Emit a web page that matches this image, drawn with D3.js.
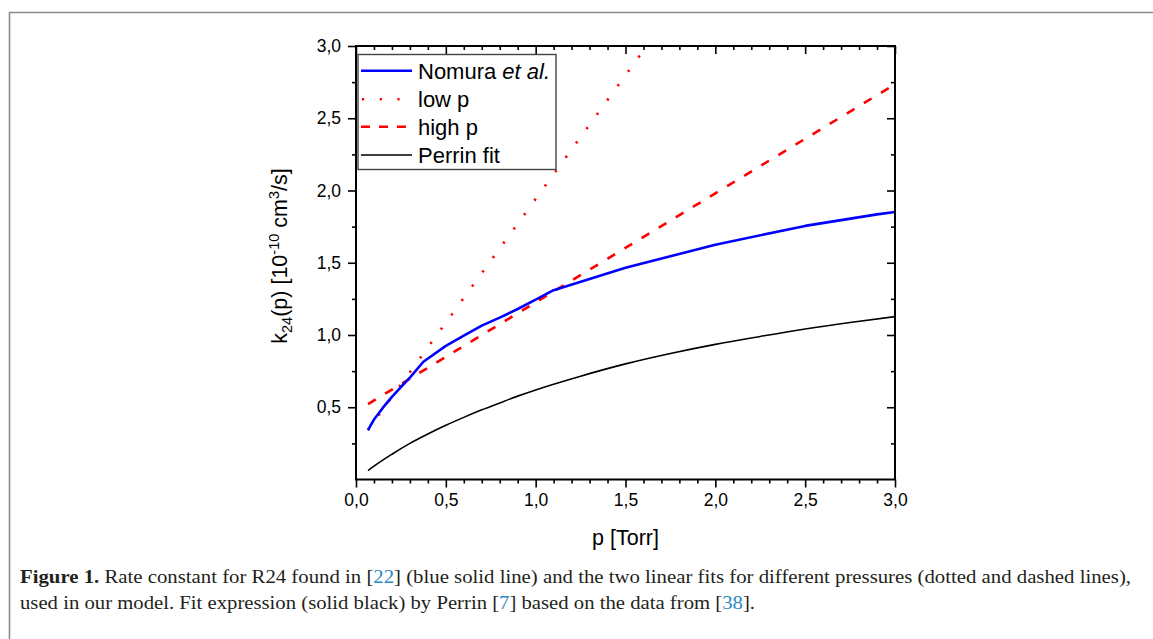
<!DOCTYPE html>
<html>
<head>
<meta charset="utf-8">
<script src="https://cdn.jsdelivr.net/npm/d3@7"></script>
<style>
  html, body { margin: 0; padding: 0; background: #fff; }
  svg { display: block; }
</style>
</head>
<body>
<svg id="chart" width="1153" height="639"></svg>
<script>
// ---- data ----
const nomuraP = [0.067, 0.08, 0.1, 0.15, 0.2, 0.25, 0.3, 0.375, 0.5, 0.6, 0.7, 0.8, 0.9, 1.0, 1.1, 1.5, 2.0, 2.5, 2.9, 3.0];
const nomuraK = [0.34, 0.372, 0.415, 0.497, 0.572, 0.64, 0.705, 0.815, 0.925, 0.995, 1.065, 1.12, 1.18, 1.245, 1.31, 1.465, 1.625, 1.755, 1.835, 1.851];
const lowP = [0.067, 1.618];
const lowK = [0.344, 3.0];
const highP = [0.067, 3.0];
const highK = [0.522, 2.735];
const perrinP = [0.067, 0.1, 0.2, 0.3, 0.4, 0.5, 0.6, 0.7, 0.8, 0.9, 1.0, 1.25, 1.5, 1.75, 2.0, 2.25, 2.5, 2.75, 3.0];
const perrinK = [0.061, 0.092, 0.175, 0.25, 0.315, 0.375, 0.43, 0.482, 0.53, 0.577, 0.62, 0.715, 0.80, 0.872, 0.935, 0.99, 1.042, 1.087, 1.127];
const xMajor = [0, 0.5, 1.0, 1.5, 2.0, 2.5, 3.0];
const yMajor = [0.5, 1.0, 1.5, 2.0, 2.5, 3.0];
const legendLabels = ["Nomura", "low p", "high p", "Perrin fit"];

// ---- layout ----
const svg = d3.select("#chart");
const X0 = 356, X1 = 895, Y0 = 479.5, Y1 = 46;
const x = d3.scaleLinear().domain([0, 3]).range([X0, X1]);
const y = d3.scaleLinear().domain([0, 3]).range([Y0, Y1]);
const fmt = d => d.toFixed(1).replace(".", ",");
const FONT = "'Liberation Sans', Arial, sans-serif";

// figure frame
svg.append("path")
  .attr("d", "M9.5,639 L9.5,12.5 L1153,12.5")
  .attr("fill", "none").attr("stroke", "#8c8c8c").attr("stroke-width", 1.6);

// clip
svg.append("clipPath").attr("id", "plotclip")
  .append("rect").attr("x", X0).attr("y", Y1).attr("width", X1 - X0).attr("height", Y0 - Y1);

// minor tick values
const xMinor = d3.range(0, 31).map(i => i / 10).filter(v => Math.abs(v * 2 - Math.round(v * 2)) > 1e-6);
const yMinor = d3.range(0, 13).map(i => i / 4).filter(v => Math.abs(v * 2 - Math.round(v * 2)) > 1e-6);

function styleAxis(g) {
  g.select(".domain").remove();
  g.selectAll(".tick line").attr("stroke", "#000").attr("stroke-width", 1.6);
  g.selectAll(".tick text").attr("fill", "#000").attr("font-family", FONT).attr("font-size", 17.5);
}

// bottom
svg.append("g").attr("transform", `translate(0,${Y0})`)
  .call(d3.axisBottom(x).tickValues(xMajor).tickSize(8).tickPadding(6).tickFormat(fmt)).call(styleAxis);
svg.append("g").attr("transform", `translate(0,${Y0})`)
  .call(d3.axisBottom(x).tickValues(xMinor).tickSize(4).tickFormat("")).call(styleAxis);
// top (inward)
svg.append("g").attr("transform", `translate(0,${Y1})`)
  .call(d3.axisTop(x).tickValues(xMajor).tickSize(-8).tickFormat("")).call(styleAxis);
svg.append("g").attr("transform", `translate(0,${Y1})`)
  .call(d3.axisTop(x).tickValues(xMinor).tickSize(-4).tickFormat("")).call(styleAxis);
// left
svg.append("g").attr("transform", `translate(${X0},0)`)
  .call(d3.axisLeft(y).tickValues(yMajor).tickSize(8).tickPadding(7).tickFormat(fmt)).call(styleAxis);
svg.append("g").attr("transform", `translate(${X0},0)`)
  .call(d3.axisLeft(y).tickValues(yMinor).tickSize(4).tickFormat("")).call(styleAxis);
// right (inward)
svg.append("g").attr("transform", `translate(${X1},0)`)
  .call(d3.axisRight(y).tickValues(yMajor).tickSize(-8).tickFormat("")).call(styleAxis);
svg.append("g").attr("transform", `translate(${X1},0)`)
  .call(d3.axisRight(y).tickValues(yMinor).tickSize(-4).tickFormat("")).call(styleAxis);

// plot lines
const line = d3.line().x(d => x(d[0])).y(d => y(d[1]));
const smooth = d3.line().x(d => x(d[0])).y(d => y(d[1])).curve(d3.curveMonotoneX);
const plot = svg.append("g").attr("clip-path", "url(#plotclip)");
const zip = (a, b) => a.map((v, i) => [v, b[i]]);

plot.append("path").datum(zip(perrinP, perrinK)).attr("d", smooth)
  .attr("fill", "none").attr("stroke", "#000").attr("stroke-width", 1.6);
plot.append("path").datum(zip(highP, highK)).attr("d", line)
  .attr("fill", "none").attr("stroke", "#ff0000").attr("stroke-width", 2.6).attr("stroke-dasharray", "9,11");
plot.append("path").datum(zip(lowP, lowK)).attr("d", line)
  .attr("fill", "none").attr("stroke", "#ff0000").attr("stroke-width", 2.6).attr("stroke-dasharray", "2.2,15.5");
plot.append("path").datum(zip(nomuraP, nomuraK)).attr("d", line)
  .attr("fill", "none").attr("stroke", "#0000ff").attr("stroke-width", 2.6).attr("stroke-linejoin", "round");

// axes frame
svg.append("rect").attr("x", X0).attr("y", Y1).attr("width", X1 - X0).attr("height", Y0 - Y1)
  .attr("fill", "none").attr("stroke", "#000").attr("stroke-width", 2);

// legend
const lg = svg.append("g");
lg.append("rect").attr("x", 358).attr("y", 54.5).attr("width", 198).attr("height", 115)
  .attr("fill", "#fff").attr("stroke", "#444").attr("stroke-width", 1.4);
const rows = [70.7, 99.3, 126.7, 155];
const styles = [
  { c: "#0000ff", w: 2.6, d: null },
  { c: "#ff0000", w: 2.6, d: "2.2,15.5" },
  { c: "#ff0000", w: 2.6, d: "9,9" },
  { c: "#000", w: 1.6, d: null }
];
legendLabels.forEach((lab, i) => {
  const s = styles[i];
  const ln = lg.append("line").attr("x1", i === 1 ? 362 : 361).attr("x2", 412)
    .attr("y1", rows[i]).attr("y2", rows[i])
    .attr("stroke", s.c).attr("stroke-width", s.w);
  if (s.d) ln.attr("stroke-dasharray", s.d);
  const t = lg.append("text").attr("x", 418).attr("y", rows[i] + 8)
    .attr("font-family", FONT).attr("font-size", 22).attr("fill", "#000").text(lab);
  if (i === 0) t.append("tspan").attr("font-style", "italic").text(" et al.");
});

// axis titles
svg.append("text").attr("x", 625.5).attr("y", 545).attr("text-anchor", "middle")
  .attr("font-family", FONT).attr("font-size", 21.5).attr("fill", "#000").text("p [Torr]");

const yt = svg.append("text").attr("transform", "translate(287,256) rotate(-90)")
  .attr("text-anchor", "middle").attr("font-family", FONT).attr("font-size", 21.5).attr("fill", "#000");
yt.append("tspan").text("k");
yt.append("tspan").attr("font-size", 14.5).attr("dy", 5).text("24");
yt.append("tspan").attr("dy", -5).text("(p) [10");
yt.append("tspan").attr("font-size", 14.5).attr("dy", -8).text("-10");
yt.append("tspan").attr("dy", 8).text(" cm");
yt.append("tspan").attr("font-size", 14.5).attr("dy", -8).text("3");
yt.append("tspan").attr("dy", 8).text("/s]");

// caption
const CAP = "'Liberation Serif', 'Times New Roman', serif";
const blue = "#2a87c4";
const c1 = svg.append("text").attr("x", 20).attr("y", 583)
  .attr("font-family", CAP).attr("font-size", 18.5).attr("fill", "#231f20")
  .attr("textLength", 1111).attr("lengthAdjust", "spacingAndGlyphs");
c1.append("tspan").attr("font-weight", "bold").text("Figure 1.");
c1.append("tspan").text(" Rate constant for R24 found in [");
c1.append("tspan").attr("fill", blue).text("22");
c1.append("tspan").text("] (blue solid line) and the two linear fits for different pressures (dotted and dashed lines),");
const c2 = svg.append("text").attr("x", 20).attr("y", 609)
  .attr("font-family", CAP).attr("font-size", 18.5).attr("fill", "#231f20")
  .attr("textLength", 735).attr("lengthAdjust", "spacingAndGlyphs");
c2.append("tspan").text("used in our model. Fit expression (solid black) by Perrin [");
c2.append("tspan").attr("fill", blue).text("7");
c2.append("tspan").text("] based on the data from [");
c2.append("tspan").attr("fill", blue).text("38");
c2.append("tspan").text("].");
</script>
</body>
</html>
